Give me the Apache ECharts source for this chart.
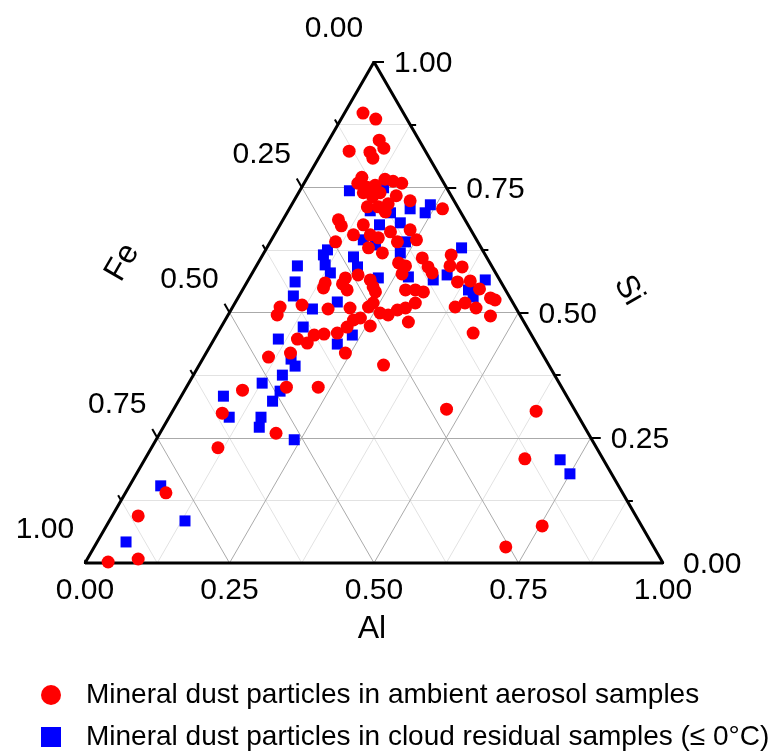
<!DOCTYPE html>
<html>
<head>
<meta charset="utf-8">
<script src="https://cdn.jsdelivr.net/npm/echarts@6/dist/echarts.min.js"></script>
<style>
html, body { margin: 0; padding: 0; background: #fff; }
#main { width: 774px; height: 756px; }
</style>
</head>
<body>
<div id="main"></div>
<script>
// ternary samples, each [Al, Si, Fe]
const ambient = [
  [0.032,0.898,0.070],[0.060,0.886,0.054],[0.087,0.844,0.069],[0.103,0.828,0.069],
  [0.046,0.822,0.132],[0.083,0.820,0.097],[0.094,0.808,0.098],[0.094,0.770,0.136],
  [0.093,0.758,0.149],[0.113,0.750,0.137],[0.136,0.766,0.098],[0.152,0.762,0.086],
  [0.169,0.758,0.073],[0.112,0.739,0.149],[0.132,0.731,0.137],[0.141,0.739,0.120],
  [0.133,0.711,0.156],[0.152,0.711,0.137],[0.166,0.717,0.117],[0.169,0.701,0.130],
  [0.201,0.723,0.076],[0.265,0.707,0.028],[0.096,0.685,0.219],[0.107,0.673,0.220],
  [0.144,0.675,0.181],[0.137,0.655,0.208],[0.166,0.655,0.179],[0.183,0.649,0.168],
  [0.198,0.661,0.141],[0.230,0.665,0.105],[0.220,0.641,0.140],[0.113,0.641,0.246],
  [0.176,0.629,0.195],[0.205,0.619,0.176],[0.251,0.645,0.104],[0.279,0.609,0.112],
  [0.243,0.599,0.158],[0.258,0.593,0.149],[0.260,0.577,0.163],[0.298,0.591,0.111],
  [0.311,0.579,0.110],[0.326,0.615,0.059],[0.335,0.593,0.072],[0.357,0.591,0.052],
  [0.185,0.575,0.240],[0.211,0.565,0.224],[0.223,0.551,0.226],[0.232,0.541,0.227],
  [0.166,0.569,0.265],[0.167,0.557,0.276],[0.181,0.545,0.274],[0.136,0.559,0.305],
  [0.138,0.549,0.313],[0.282,0.545,0.173],[0.299,0.545,0.156],[0.315,0.541,0.144],
  [0.364,0.561,0.075],[0.385,0.563,0.052],[0.409,0.547,0.044],[0.235,0.511,0.254],
  [0.239,0.519,0.242],[0.261,0.499,0.240],[0.277,0.495,0.228],[0.288,0.505,0.207],
  [0.300,0.509,0.191],[0.312,0.519,0.169],[0.319,0.481,0.200],[0.082,0.511,0.407],
  [0.085,0.495,0.420],[0.118,0.515,0.367],[0.167,0.507,0.326],[0.204,0.509,0.287],
  [0.222,0.485,0.293],[0.232,0.489,0.279],[0.218,0.471,0.311],[0.207,0.459,0.334],
  [0.185,0.457,0.358],[0.169,0.455,0.376],[0.144,0.447,0.409],[0.165,0.439,0.396],
  [0.257,0.473,0.270],[0.437,0.529,0.034],[0.447,0.525,0.028],[0.398,0.519,0.083],
  [0.385,0.511,0.104],[0.422,0.509,0.069],[0.455,0.493,0.052],[0.442,0.459,0.099],
  [0.241,0.419,0.340],[0.319,0.395,0.286],[0.112,0.411,0.477],[0.146,0.419,0.435],
  [0.173,0.351,0.476],[0.228,0.351,0.421],[0.100,0.345,0.555],[0.088,0.299,0.613],
  [0.201,0.259,0.540],[0.115,0.230,0.655],[0.472,0.307,0.221],[0.629,0.303,0.068],
  [0.657,0.208,0.135],[0.754,0.074,0.172],[0.712,0.032,0.256],[0.070,0.140,0.790],
  [0.045,0.094,0.861],[0.039,0.002,0.959],[0.088,0.008,0.904],[0.125,0.754,0.121],
  [0.172,0.733,0.095]
];

const cloud = [
  [0.086,0.743,0.171],[0.142,0.749,0.109],[0.179,0.699,0.122],[0.209,0.707,0.084],
  [0.240,0.715,0.045],[0.239,0.699,0.062],[0.172,0.675,0.153],[0.206,0.679,0.115],
  [0.159,0.645,0.196],[0.185,0.635,0.180],[0.107,0.625,0.268],[0.159,0.611,0.230],
  [0.236,0.619,0.145],[0.234,0.641,0.125],[0.337,0.629,0.034],[0.071,0.593,0.336],
  [0.083,0.561,0.356],[0.094,0.533,0.373],[0.105,0.615,0.280],[0.118,0.595,0.287],
  [0.135,0.579,0.286],[0.176,0.591,0.233],[0.176,0.521,0.303],[0.140,0.507,0.353],
  [0.142,0.471,0.387],[0.223,0.569,0.208],[0.274,0.571,0.155],[0.111,0.447,0.442],
  [0.235,0.455,0.310],[0.218,0.437,0.345],[0.339,0.575,0.086],[0.320,0.565,0.115],
  [0.410,0.565,0.025],[0.391,0.545,0.064],[0.406,0.531,0.063],[0.167,0.393,0.440],
  [0.153,0.407,0.440],[0.154,0.375,0.471],[0.127,0.359,0.514],[0.166,0.343,0.491],
  [0.163,0.323,0.514],[0.073,0.333,0.594],[0.104,0.291,0.605],[0.159,0.291,0.550],
  [0.166,0.271,0.563],[0.239,0.246,0.515],[0.054,0.154,0.792],[0.131,0.084,0.785],
  [0.050,0.042,0.908],[0.719,0.206,0.075],[0.750,0.178,0.072],[0.142,0.703,0.155]
];

const tickValues = [0, 0.25, 0.5, 0.75, 1];
const tickLabels = ['0.00', '0.25', '0.50', '0.75', '1.00'];
const minorValues = [0.125, 0.375, 0.625, 0.875];
const ambientName = 'Mineral dust particles in ambient aerosol samples';
const cloudName = 'Mineral dust particles in cloud residual samples (\u2264 0\u00b0C)';

const FONT = '"Liberation Sans", Arial, sans-serif';
// pixel size of the plotting box (side of the triangle and its height)
const PX_W = 578, PX_H = 501;

// ternary (Al, Si) -> cartesian plot coords
function toXY(al, si) { return [al + si / 2, si]; }

// grid lines: constant Si, constant Al, constant Fe
function gridSegs(vals) {
  const segs = [];
  vals.forEach(function (v) {
    if (v <= 0 || v >= 1) return;
    segs.push({ coords: [toXY(0, v), toXY(1 - v, v)] });
    segs.push({ coords: [toXY(v, 0), toXY(v, 1 - v)] });
    segs.push({ coords: [toXY(1 - v, 0), toXY(0, 1 - v)] });
  });
  return segs;
}

// tick marks pointing outward, along the grid direction of each axis
function tickSegs(vals, len) {
  const segs = [];
  const dx = len / PX_W, dy = len / PX_H;
  vals.forEach(function (v) {
    const a = toXY(v, 0);              // Al axis, bottom
    segs.push({ coords: [a, [a[0] - 0.5 * dx, a[1] - 0.866 * dy]] });
    const s = toXY(1 - v, v);          // Si axis, right
    segs.push({ coords: [s, [s[0] + dx, s[1]]] });
    const f = toXY(0, 1 - v);          // Fe axis, left
    segs.push({ coords: [f, [f[0] - 0.5 * dx, f[1] + 0.866 * dy]] });
  });
  return segs;
}

function labelSeries(points, texts, offset, align, size) {
  return {
    type: 'scatter', symbolSize: 0, silent: true, clip: false, z: 5,
    data: points.map(function (p, i) { return { value: p, name: texts[i] }; }),
    itemStyle: { opacity: 1 },
    label: {
      show: true, position: 'inside', offset: offset, align: align,
      verticalAlign: 'middle', opacity: 1,
      textBorderWidth: 0, textShadowBlur: 0,
      formatter: function (p) { return p.name; },
      color: '#000', fontSize: size, fontFamily: FONT
    }
  };
}

const chart = echarts.init(document.getElementById('main'));

const option = {
  animation: false,
  backgroundColor: '#fff',
  grid: { left: 85, top: 62, width: PX_W, height: PX_H },
  xAxis: { type: 'value', min: 0, max: 1, show: false },
  yAxis: { type: 'value', min: 0, max: 1, show: false },
  legend: {
    orient: 'vertical', left: 36, top: 676, itemGap: 14,
    itemWidth: 20, itemHeight: 20,
    textStyle: { fontSize: 28, fontFamily: FONT, color: '#000', padding: [0, 0, 0, 20] },
    data: [{ name: ambientName, icon: 'circle' }, { name: cloudName, icon: 'rect' }]
  },
  series: [
    {
      type: 'lines', coordinateSystem: 'cartesian2d', silent: true, z: 1,
      lineStyle: { color: '#e2e2e2', width: 1, opacity: 1 },
      data: gridSegs(minorValues)
    },
    {
      type: 'lines', coordinateSystem: 'cartesian2d', silent: true, z: 1,
      lineStyle: { color: '#aaaaaa', width: 1, opacity: 1 },
      data: gridSegs(tickValues)
    },
    {
      type: 'lines', coordinateSystem: 'cartesian2d', silent: true, z: 3,
      lineStyle: { color: '#000', width: 2, opacity: 1 },
      data: tickSegs(tickValues, 10).concat(tickSegs(minorValues, 6))
    },
    {
      type: 'line', silent: true, clip: false, symbol: 'none', z: 3,
      lineStyle: { color: '#000', width: 3 },
      data: [toXY(0, 0), toXY(1, 0), toXY(0, 1), toXY(0, 0)]
    },
    {
      name: cloudName, type: 'scatter', symbol: 'rect', symbolSize: 11, clip: false, z: 4,
      itemStyle: { color: '#0000ff', opacity: 1 },
      data: cloud.map(function (d) { return toXY(d[0], d[1]); })
    },
    {
      name: ambientName, type: 'scatter', symbol: 'circle', symbolSize: 13, clip: false, z: 4,
      itemStyle: { color: '#ff0000', opacity: 1 },
      data: ambient.map(function (d) { return toXY(d[0], d[1]); })
    },
    labelSeries(tickValues.map(function (v) { return toXY(v, 0); }), tickLabels, [0, 28], 'center', 30),
    labelSeries(tickValues.map(function (v) { return toXY(1 - v, v); }), tickLabels, [20, 2], 'left', 30),
    labelSeries(tickValues.map(function (v) { return toXY(0, 1 - v); }), tickLabels, [-40, -33], 'center', 30),
    labelSeries([toXY(0.5, 0)], ['Al'], [-2, 66], 'center', 32)
  ]
};

chart.setOption(option);

// rotated axis titles on the two slanted sides
const feMid = chart.convertToPixel({ gridIndex: 0 }, toXY(0, 0.5));
const siMid = chart.convertToPixel({ gridIndex: 0 }, toXY(0.5, 0.5));
chart.setOption({
  graphic: [
    {
      type: 'text', x: feMid[0] - 107, y: feMid[1] - 50, rotation: Math.PI / 3,
      style: { text: 'Fe', x: 0, y: 0, align: 'center', verticalAlign: 'middle', fill: '#000', font: '32px ' + FONT }
    },
    {
      type: 'text', x: siMid[0] + 110, y: siMid[1] - 22, rotation: -Math.PI / 3,
      style: { text: 'Si', x: 0, y: 0, align: 'center', verticalAlign: 'middle', fill: '#000', font: '32px ' + FONT }
    }
  ]
});
</script>
</body>
</html>
